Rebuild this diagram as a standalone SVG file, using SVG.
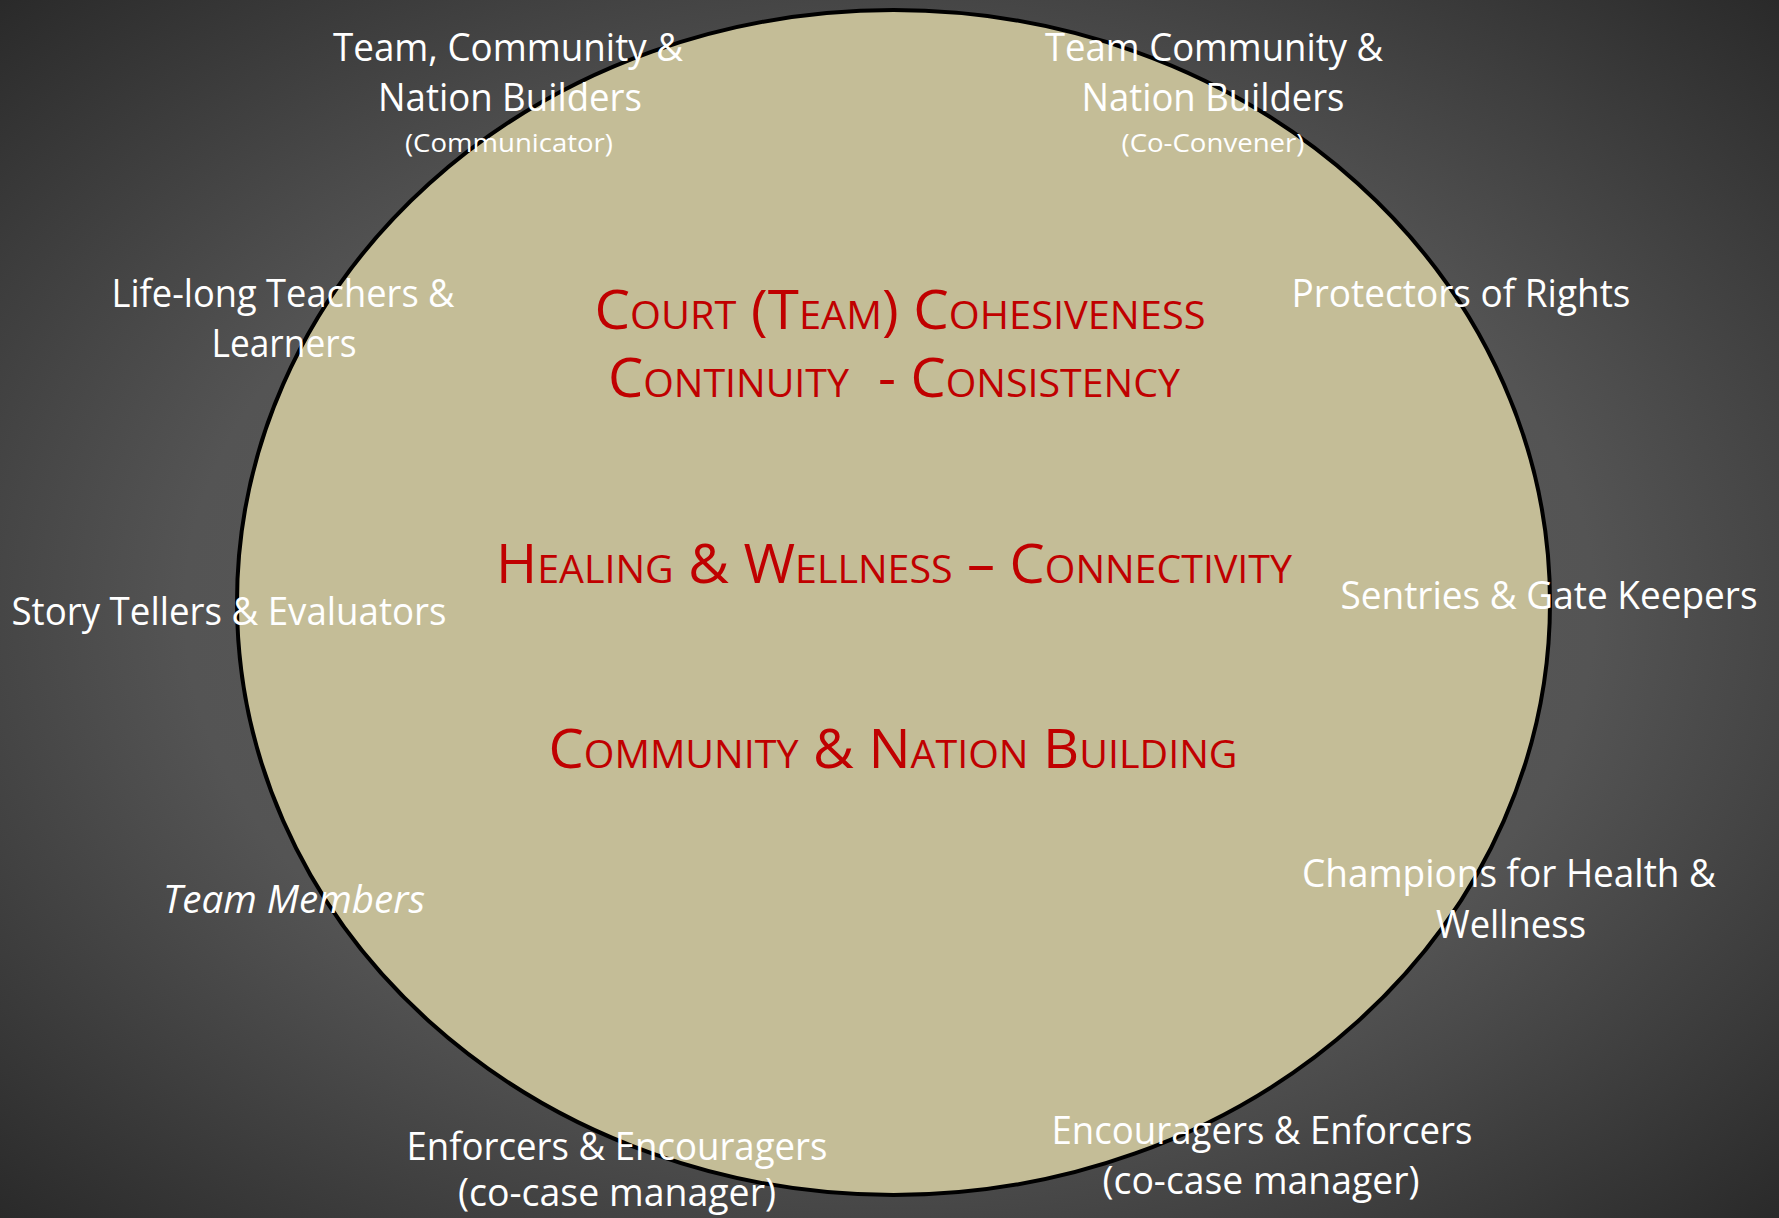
<svg xmlns="http://www.w3.org/2000/svg" width="1779" height="1218" viewBox="0 0 1779 1218">
<defs>
<radialGradient id="bg" cx="0.5" cy="0.5" r="0.72">
<stop offset="0" stop-color="#5e5e5e"/>
<stop offset="0.55" stop-color="#545454"/>
<stop offset="1" stop-color="#282828"/>
</radialGradient>
<style>
.w{font-family:"Open Sans","Noto Sans",sans-serif;fill:#ffffff;text-anchor:middle}
.l{font-size:39px}
.s{font-size:25px}
.r{font-family:"Open Sans","Noto Sans",sans-serif;fill:#c00000;font-size:54px;font-variant:small-caps;text-anchor:middle;white-space:pre}
</style>
</defs>
<rect x="0" y="0" width="1779" height="1218" fill="url(#bg)"/>
<g id="circle">
<ellipse cx="893.5" cy="602.5" rx="656.5" ry="592.5" fill="#c4bd97" stroke="#000" stroke-width="4"/>
</g>
<g id="center-text">
<text class="r" x="900" y="329" textLength="611" lengthAdjust="spacingAndGlyphs">Court (Team) Cohesiveness</text>
<text class="r" x="894" y="397" textLength="572" lengthAdjust="spacingAndGlyphs" xml:space="preserve">Continuity  - Consistency</text>
<text class="r" x="894" y="583" textLength="796" lengthAdjust="spacingAndGlyphs">Healing &amp; Wellness – Connectivity</text>
<text class="r" x="893" y="768" textLength="689" lengthAdjust="spacingAndGlyphs">Community &amp; Nation Building</text>
</g>
<g id="communicator">
<text class="w l" x="508" y="61" textLength="350" lengthAdjust="spacingAndGlyphs">Team, Community &amp;</text>
<text class="w l" x="510" y="111" textLength="264" lengthAdjust="spacingAndGlyphs">Nation Builders</text>
<text class="w s" x="509" y="152" textLength="208" lengthAdjust="spacingAndGlyphs">(Communicator)</text>
</g>
<g id="co-convener">
<text class="w l" x="1214" y="61" textLength="338" lengthAdjust="spacingAndGlyphs">Team Community &amp;</text>
<text class="w l" x="1213" y="111" textLength="263" lengthAdjust="spacingAndGlyphs">Nation Builders</text>
<text class="w s" x="1213" y="152" textLength="183" lengthAdjust="spacingAndGlyphs">(Co-Convener)</text>
</g>
<g id="teachers">
<text class="w l" x="283" y="307" textLength="343" lengthAdjust="spacingAndGlyphs">Life-long Teachers &amp;</text>
<text class="w l" x="284" y="357" textLength="145" lengthAdjust="spacingAndGlyphs">Learners</text>
</g>
<g id="protectors">
<text class="w l" x="1461" y="307" textLength="339" lengthAdjust="spacingAndGlyphs">Protectors of Rights</text>
</g>
<g id="story-tellers">
<text class="w l" x="229" y="625" textLength="435" lengthAdjust="spacingAndGlyphs">Story Tellers &amp; Evaluators</text>
</g>
<g id="sentries">
<text class="w l" x="1549" y="609" textLength="417" lengthAdjust="spacingAndGlyphs">Sentries &amp; Gate Keepers</text>
</g>
<g id="team-members">
<text class="w l" x="294" y="913" font-style="italic" textLength="262" lengthAdjust="spacingAndGlyphs">Team Members</text>
</g>
<g id="champions">
<text class="w l" x="1509" y="887" textLength="414" lengthAdjust="spacingAndGlyphs">Champions for Health &amp;</text>
<text class="w l" x="1511" y="938" textLength="150" lengthAdjust="spacingAndGlyphs">Wellness</text>
</g>
<g id="enforcers">
<text class="w l" x="617" y="1160" textLength="421" lengthAdjust="spacingAndGlyphs">Enforcers &amp; Encouragers</text>
<text class="w l" x="617" y="1206" textLength="318" lengthAdjust="spacingAndGlyphs">(co-case manager)</text>
</g>
<g id="encouragers">
<text class="w l" x="1262" y="1144" textLength="421" lengthAdjust="spacingAndGlyphs">Encouragers &amp; Enforcers</text>
<text class="w l" x="1261" y="1194" textLength="317" lengthAdjust="spacingAndGlyphs">(co-case manager)</text>
</g>
</svg>
